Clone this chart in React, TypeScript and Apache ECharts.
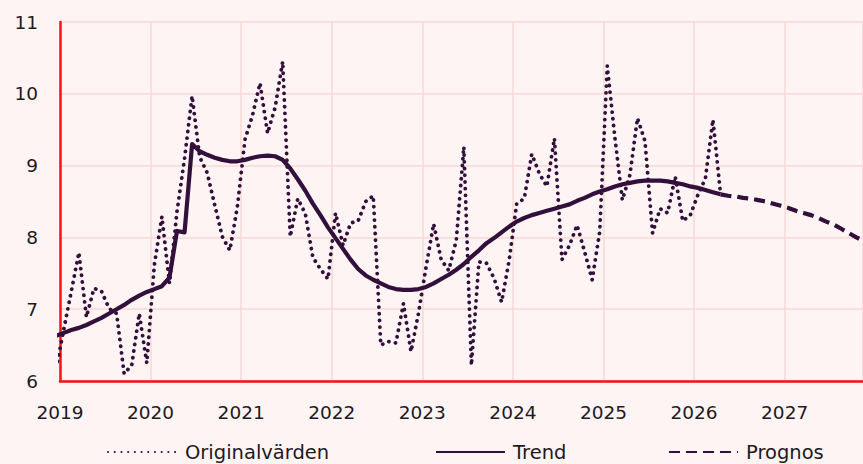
import React, { useEffect, useRef } from "react";
import * as echarts from "echarts";

// Monthly series, first value = December 2018 (mid-month positions)
const START_YEAR = 2018;
const START_MONTH = 12;

const yearTicks = [2019, 2020, 2021, 2022, 2023, 2024, 2025, 2026, 2027];
const X_MAX = 2027.865; // visible end of the time axis (window edge)
const yTicks = [6, 7, 8, 9, 10, 11];

const seriesNames = ["Originalvärden", "Trend", "Prognos"];

const originalValues = [
  6.18,
  // 2019
  6.72, 7.25, 7.79, 6.89, 7.29, 7.25, 7.01, 6.94, 6.1, 6.22, 6.94, 6.25,
  // 2020
  7.62, 8.29, 7.36, 8.36, 9.1, 9.97, 9.12, 8.9, 8.45, 8.01, 7.82, 8.43,
  // 2021
  9.36, 9.7, 10.15, 9.45, 9.81, 10.45, 8.01, 8.54, 8.33, 7.72, 7.56, 7.42,
  // 2022
  8.34, 7.89, 8.2, 8.23, 8.5, 8.58, 6.5, 6.55, 6.53, 7.08, 6.41, 6.95,
  // 2023
  7.59, 8.19, 7.69, 7.54, 7.96, 9.26, 6.22, 7.66, 7.64, 7.43, 7.1, 7.68,
  // 2024
  8.47, 8.54, 9.16, 8.89, 8.71, 9.38, 7.69, 7.89, 8.17, 7.8, 7.41, 8.08,
  // 2025
  10.39, 9.4, 8.52, 8.87, 9.66, 9.34, 8.06, 8.4, 8.34, 8.85, 8.23, 8.31,
  // 2026
  8.59, 8.82, 9.64, 8.61,
];

const trendValues = [
  6.63,
  // 2019
  6.67, 6.71, 6.74, 6.78, 6.83, 6.88, 6.94, 7.0, 7.06, 7.13, 7.19, 7.24,
  // 2020
  7.28, 7.32, 7.44, 8.09, 8.07, 9.3, 9.2, 9.15, 9.11, 9.08, 9.06, 9.06,
  // 2021
  9.08, 9.11, 9.13, 9.14, 9.13, 9.08, 8.96, 8.81, 8.65, 8.47, 8.31, 8.14,
  // 2022
  7.99, 7.84, 7.69, 7.56, 7.47, 7.41, 7.36, 7.31, 7.28, 7.27, 7.27, 7.28,
  // 2023
  7.31, 7.36, 7.42, 7.48, 7.55, 7.63, 7.73, 7.82, 7.92, 7.99, 8.07, 8.15,
  // 2024
  8.22, 8.27, 8.31, 8.34, 8.37, 8.4, 8.43, 8.46, 8.51, 8.55, 8.6, 8.64,
  // 2025
  8.67, 8.71, 8.74, 8.76, 8.78, 8.79, 8.79, 8.79, 8.78, 8.76, 8.74, 8.71,
  // 2026
  8.69, 8.66, 8.63, 8.6,
];

// Forecast starts April 2026 (index 88 counted from December 2018)
const PROGNOS_START_INDEX = 88;
const prognosValues = [
  8.6, 8.58, 8.57, 8.55, 8.54, 8.52, 8.5, 8.47, 8.44, 8.41, 8.37, 8.34,
  8.31, 8.27, 8.22, 8.18, 8.12, 8.06, 8.0, 7.95, 7.89,
];

const monthX = (i: number) => START_YEAR + (START_MONTH - 1 + i + 0.5) / 12;

const toPairs = (values: number[], offset = 0) =>
  values.map((v, i) => [monthX(i + offset), v]);

const LINE_COLOR = "#33103c";
const TEXT_COLOR = "#1e1a1d";
const GRID_COLOR = "#f8dad4";
const AXIS_COLOR = "#ff1010";
const BG = "#fef4f3";
const FONT = "DejaVu Sans";

export default function App() {
  const ref = useRef<HTMLDivElement>(null);

  useEffect(() => {
    document.body.style.margin = "0";
    document.body.style.background = BG;
    if (!ref.current) return;
    const chart = echarts.init(ref.current, null, { renderer: "svg" });

    const legendBase = {
      top: 442,
      padding: 0,
      itemWidth: 69,
      itemHeight: 19,
      itemStyle: { color: "rgba(0,0,0,0)", borderWidth: 0, borderColor: "rgba(0,0,0,0)" },
      textStyle: {
        color: TEXT_COLOR,
        fontSize: 19.5,
        lineHeight: 19,
        fontFamily: FONT,
        padding: [0, 0, 0, 3],
      },
    };

    chart.setOption({
      animation: false,
      backgroundColor: BG,
      textStyle: { fontFamily: FONT },
      grid: { left: 60, top: 22, bottom: 83, right: 0, containLabel: false },
      legend: [
        { ...legendBase, left: 107, data: [seriesNames[0]] },
        { ...legendBase, left: 435, data: [seriesNames[1]] },
        { ...legendBase, left: 668, data: [seriesNames[2]] },
      ],
      xAxis: {
        type: "value",
        min: yearTicks[0],
        max: X_MAX,
        interval: 1,
        axisLine: { show: true, onZero: false, lineStyle: { color: AXIS_COLOR, width: 2.5 } },
        axisTick: { show: false },
        splitLine: { show: true, lineStyle: { color: GRID_COLOR, width: 1.5 } },
        axisLabel: {
          showMaxLabel: false,
          margin: 22,
          color: TEXT_COLOR,
          fontSize: 18.5,
          fontFamily: FONT,
          formatter: (v: number) => (yearTicks.includes(v) ? String(v) : ""),
        },
      },
      yAxis: {
        type: "value",
        min: yTicks[0],
        max: yTicks[yTicks.length - 1],
        interval: 1,
        axisLine: { show: true, onZero: false, lineStyle: { color: AXIS_COLOR, width: 2.5 } },
        axisTick: { show: false },
        splitLine: { show: true, lineStyle: { color: GRID_COLOR, width: 1.5 } },
        axisLabel: {
          margin: 22,
          color: TEXT_COLOR,
          fontSize: 18.5,
          fontFamily: FONT,
        },
      },
      series: [
        {
          name: seriesNames[0],
          type: "line",
          data: toPairs(originalValues),
          showSymbol: false,
          symbol: "none",
          clip: true,
          color: LINE_COLOR,
          lineStyle: { color: LINE_COLOR, width: 3.8, type: [0.1, 6.6], cap: "round", join: "round" },
          z: 3,
        },
        {
          name: seriesNames[1],
          type: "line",
          data: toPairs(trendValues),
          showSymbol: false,
          symbol: "none",
          clip: true,
          color: LINE_COLOR,
          lineStyle: { color: LINE_COLOR, width: 4.2, type: "solid", join: "round" },
          z: 4,
        },
        {
          name: seriesNames[2],
          type: "line",
          data: toPairs(prognosValues, PROGNOS_START_INDEX),
          showSymbol: false,
          symbol: "none",
          clip: true,
          color: LINE_COLOR,
          lineStyle: { color: LINE_COLOR, width: 4.2, type: [11, 6] },
          z: 4,
        },
      ],
    });

    return () => chart.dispose();
  }, []);

  return <div ref={ref} style={{ width: 863, height: 464 }} />;
}
